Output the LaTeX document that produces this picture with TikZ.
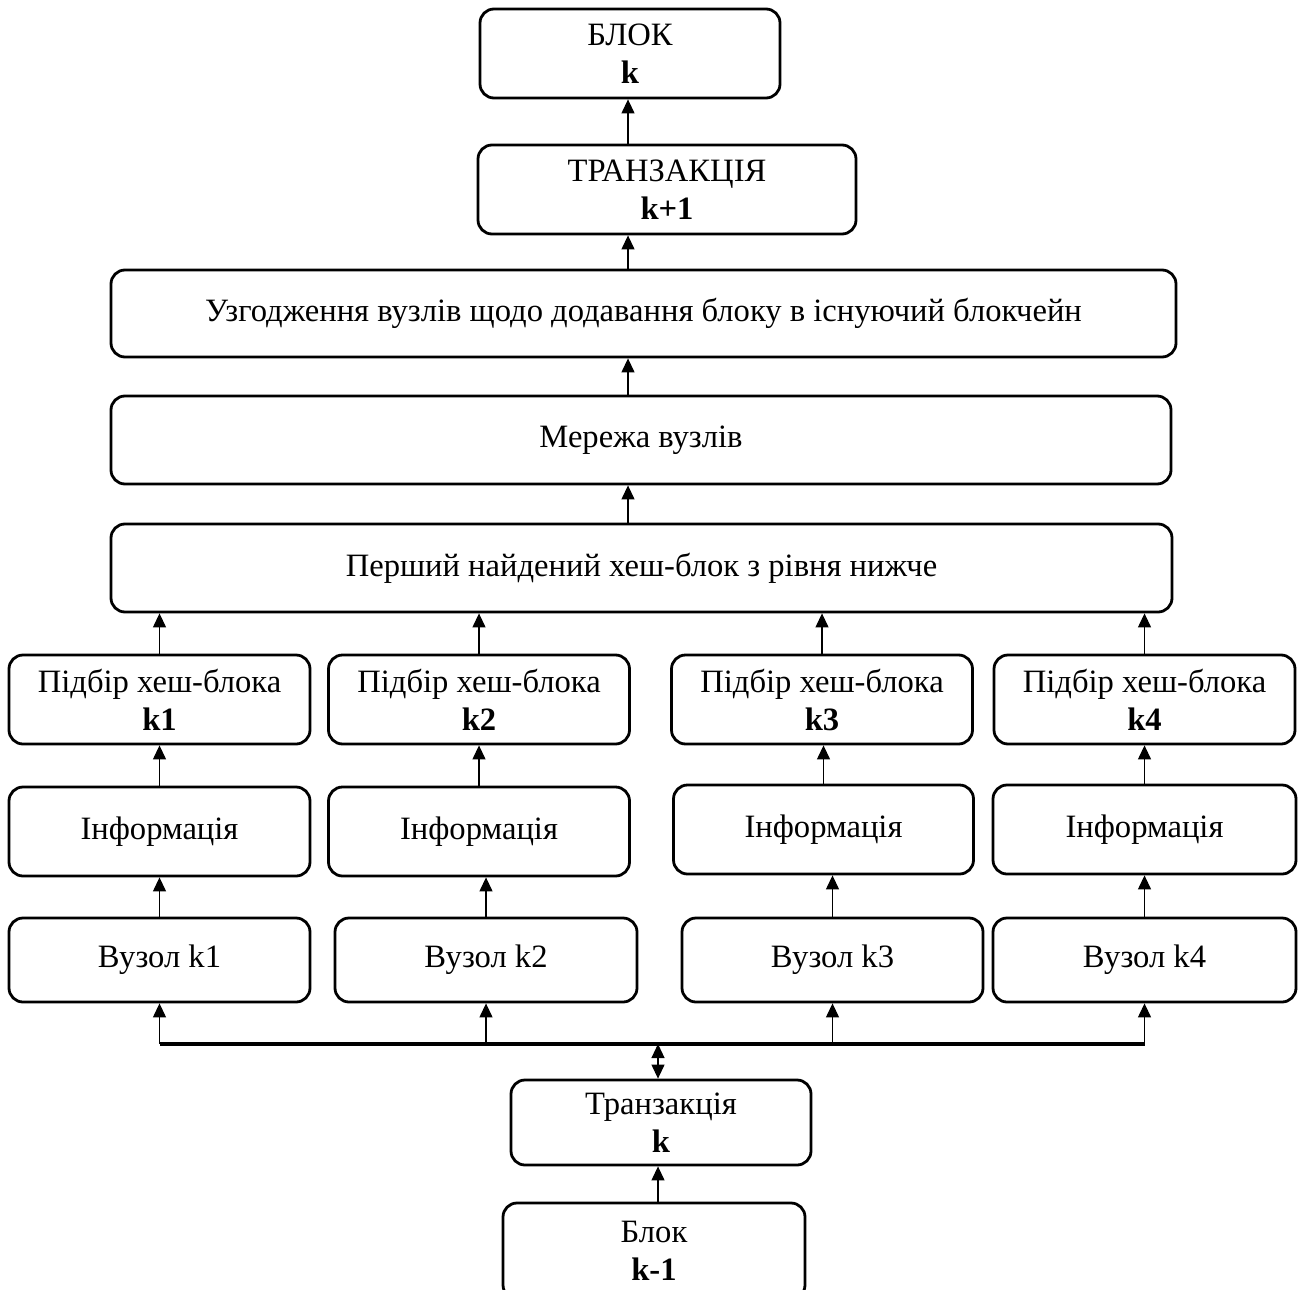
\documentclass[tikz,border=0pt]{standalone}
\usepackage{fontspec}
\setmainfont{Liberation Serif}
\usetikzlibrary{arrows.meta}
\begin{document}
\begin{tikzpicture}[x=0.5pt,y=-0.5pt,
  box/.style={draw,line width=1.4pt,rounded corners=7pt,inner sep=0pt,align=center,
    font=\fontsize{16.3}{19}\selectfont},
  arr/.style={line width=0.6pt,-{Triangle[length=7pt,width=6.5pt]}},
  darr/.style={line width=0.6pt,{Triangle[length=7pt,width=6.5pt]}-{Triangle[length=7pt,width=6.5pt]}},
  busline/.style={line width=1.8pt}]
\useasboundingbox (0,0) rectangle (1305,1289);
\clip (0,0) rectangle (1305,1289);
\node[box,minimum width=150pt,minimum height=44.5pt] (blk) at (630,53.5) {БЛОК\\\textbf{k}};
\node[box,minimum width=189pt,minimum height=44.5pt] (tr1) at (667,189.5) {ТРАНЗАКЦІЯ\\\textbf{k+1}};
\node[box,minimum width=532.5pt,minimum height=43.5pt] (agr) at (643.5,313.5) {Узгодження вузлів щодо додавання блоку в існуючий блокчейн};
\node[box,minimum width=530pt,minimum height=44pt] (net) at (641,440) {Мережа вузлів};
\node[box,minimum width=530.5pt,minimum height=44pt] (first) at (641.5,568) {Перший найдений хеш-блок з рівня нижче};
\foreach \n/\x in {1/159.5,2/479,3/822,4/1144.5}{
  \node[box,minimum width=150.5pt,minimum height=44.5pt] (h\n) at (\x,699.5) {Підбір хеш-блока\\\textbf{k\n}};
}
\node[box,minimum width=150.5pt,minimum height=44.5pt] (i1) at (159.5,831.5) {Інформація};
\node[box,minimum width=150.5pt,minimum height=44.5pt] (i2) at (479,831.5) {Інформація};
\node[box,minimum width=150pt,minimum height=44.5pt] (i3) at (823.5,829.5) {Інформація};
\node[box,minimum width=151.5pt,minimum height=44.5pt] (i4) at (1144.5,829.5) {Інформація};
\node[box,minimum width=150.5pt,minimum height=42pt] (v1) at (159.5,960) {Вузол k1};
\node[box,minimum width=151pt,minimum height=42pt] (v2) at (486,960) {Вузол k2};
\node[box,minimum width=150.5pt,minimum height=42pt] (v3) at (832.5,960) {Вузол k3};
\node[box,minimum width=151.5pt,minimum height=42pt] (v4) at (1144.5,960) {Вузол k4};
\node[box,minimum width=150pt,minimum height=42.5pt] (tr) at (661,1122.5) {Транзакція\\\textbf{k}};
\node[box,minimum width=151pt,minimum height=48pt] (bk1) at (654,1251) {Блок\\\textbf{k-1}};
% vertical arrows at top
\coordinate (ax) at (628,0);
\draw[arr] (ax |- tr1.north) -- (ax |- blk.south);
\draw[arr] (ax |- agr.north) -- (ax |- tr1.south);
\draw[arr] (ax |- net.north) -- (ax |- agr.south);
\draw[arr] (ax |- first.north) -- (ax |- net.south);
\foreach \n in {1,2,3,4}{
  \draw[arr] (h\n.north) -- (h\n.north |- first.south);
  \draw[arr] (i\n.north) -- (i\n.north |- h\n.south);
  \draw[arr] (v\n.north) -- (v\n.north |- i\n.south);
}
% bus
\coordinate (busy) at (0,1044);
\draw[busline] (v1.south |- busy) -- (v4.south |- busy);
\foreach \n in {1,2,3,4}{
  \draw[arr] (v\n.south |- busy) -- (v\n.south);
}
\coordinate (dx) at (658,0);
\draw[darr] (dx |- busy) -- (dx |- tr.north);
\draw[arr] (dx |- bk1.north) -- (dx |- tr.south);
\end{tikzpicture}
\end{document}
